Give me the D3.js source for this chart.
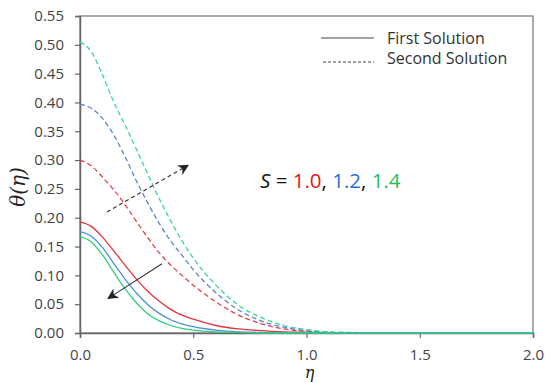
<!DOCTYPE html>
<html>
<head>
<meta charset="utf-8">
<script src="https://cdn.jsdelivr.net/npm/d3@7"></script>
<style>
  body { margin: 0; background: #fff; }
  text { font-family: "Open Sans", "DejaVu Sans", sans-serif; }
</style>
</head>
<body>
<div id="canvas"></div>
<script>
"use strict";

// eta grid and theta values
let eta = [0, 0.05, 0.1, 0.15, 0.2, 0.25, 0.3, 0.35, 0.4, 0.45, 0.5, 0.6, 0.7, 0.8, 0.9, 1.0, 1.1, 1.2, 1.4, 1.6, 2.0];

let firstS10 = [0.193, 0.185, 0.166, 0.142, 0.117, 0.093, 0.072, 0.055, 0.041, 0.031, 0.024, 0.013, 0.007, 0.004, 0.002, 0.001, 0, 0, 0, 0, 0];
let firstS12 = [0.176, 0.168, 0.148, 0.120, 0.093, 0.069, 0.049, 0.034, 0.023, 0.016, 0.011, 0.005, 0.002, 0.001, 0, 0, 0, 0, 0, 0, 0];
let firstS14 = [0.167, 0.158, 0.135, 0.105, 0.076, 0.052, 0.033, 0.021, 0.013, 0.008, 0.005, 0.002, 0.001, 0, 0, 0, 0, 0, 0, 0, 0];

let secondS10 = [0.300, 0.290, 0.270, 0.248, 0.222, 0.193, 0.165, 0.139, 0.118, 0.100, 0.083, 0.054, 0.031, 0.016, 0.007, 0.003, 0.001, 0, 0, 0, 0];
let secondS12 = [0.397, 0.390, 0.372, 0.343, 0.305, 0.263, 0.225, 0.190, 0.160, 0.135, 0.110, 0.070, 0.040, 0.021, 0.010, 0.004, 0.001, 0, 0, 0, 0];
let secondS14 = [0.505, 0.488, 0.447, 0.400, 0.360, 0.318, 0.275, 0.233, 0.195, 0.160, 0.130, 0.083, 0.048, 0.027, 0.013, 0.006, 0.002, 0.001, 0, 0, 0];

let sLabels = ["1.0", "1.2", "1.4"];
let xTicks = [0, 0.5, 1.0, 1.5, 2.0];
let yTicks = [0, 0.05, 0.1, 0.15, 0.2, 0.25, 0.3, 0.35, 0.4, 0.45, 0.5, 0.55];

let lineColors = ["#e4343e", "#4f8fd8", "#2fd07c"];
let dashColors = ["#e0404a", "#5a82cc", "#3ad49c"];
let textColors = ["#e8141e", "#2f6fd8", "#1fbf5f"];

let width = 550, height = 383;
let margin = {left: 80, right: 17, top: 16, bottom: 50};

let drawing = d3.select("#canvas")
    .append("svg")
    .attr("width", width)
    .attr("height", height);

let x = d3.scaleLinear().domain([0, 2]).range([margin.left, width - margin.right]);
let y = d3.scaleLinear().domain([0, 0.55]).range([height - margin.bottom, margin.top]);

// frame (top + right)
drawing.append("rect")
    .attr("x", x(0)).attr("y", y(0.55))
    .attr("width", x(2) - x(0)).attr("height", y(0) - y(0.55))
    .attr("fill", "none")
    .attr("stroke", "#777")
    .attr("stroke-width", 1.2);

let xAxis = drawing.append("g")
    .attr("transform", `translate(0,${y(0)})`)
    .call(d3.axisBottom(x).tickValues(xTicks).tickSize(5).tickFormat(d3.format(".1f")));

let yAxis = drawing.append("g")
    .attr("transform", `translate(${x(0)},0)`)
    .call(d3.axisLeft(y).tickValues(yTicks).tickSize(5).tickFormat(d3.format(".2f")));

[xAxis, yAxis].forEach(function (ax) {
    ax.select(".domain").attr("stroke", "#666").attr("stroke-width", 1.5);
    ax.selectAll(".tick line").attr("stroke", "#666").attr("stroke-width", 1.2);
    ax.selectAll(".tick text")
        .attr("fill", "#444")
        .style("font-size", "15px")
        .style("font-family", "'Open Sans', sans-serif");
});
xAxis.selectAll(".tick text").attr("y", 9).attr("dy", "1.2em");
yAxis.selectAll(".tick text").attr("x", -16);

let line = d3.line()
    .x((d, i) => x(eta[i]))
    .y(d => y(d))
    .curve(d3.curveMonotoneX);

let plot = drawing.append("g");

[secondS10, secondS12, secondS14].forEach(function (vals, i) {
    plot.append("path")
        .attr("d", line(vals))
        .attr("fill", "none")
        .attr("stroke", dashColors[i])
        .attr("stroke-width", 1.3)
        .attr("stroke-dasharray", "5,3");
});

[firstS10, firstS12, firstS14].forEach(function (vals, i) {
    plot.append("path")
        .attr("d", line(vals))
        .attr("fill", "none")
        .attr("stroke", lineColors[i])
        .attr("stroke-width", 1.3);
});

// arrows
let defs = drawing.append("defs");
defs.append("marker")
    .attr("id", "head")
    .attr("viewBox", "0 0 10 10")
    .attr("refX", 8).attr("refY", 5)
    .attr("markerWidth", 11).attr("markerHeight", 11)
    .attr("markerUnits", "userSpaceOnUse")
    .attr("orient", "auto")
    .append("path")
    .attr("d", "M0,0 L10,5 L0,10 L3,5 Z")
    .attr("fill", "#222");

drawing.append("line")
    .attr("x1", x(0.119)).attr("y1", y(0.21))
    .attr("x2", x(0.473)).attr("y2", y(0.29))
    .attr("stroke", "#333").attr("stroke-width", 1.1)
    .attr("stroke-dasharray", "4,3")
    .attr("marker-end", "url(#head)");

drawing.append("line")
    .attr("x1", x(0.362)).attr("y1", y(0.12))
    .attr("x2", x(0.128)).attr("y2", y(0.061))
    .attr("stroke", "#333").attr("stroke-width", 1.1)
    .attr("marker-end", "url(#head)");

// S label
let sText = drawing.append("text")
    .attr("x", 260).attr("y", 188)
    .style("font-size", "20.5px")
    .attr("fill", "#111");
sText.append("tspan").text("S").style("font-style", "italic");
sText.append("tspan").text(" = ");
sLabels.forEach(function (s, i) {
    sText.append("tspan").text(s).attr("fill", textColors[i]);
    if (i < sLabels.length - 1) sText.append("tspan").text(", ");
});

// legend
let legend = drawing.append("g");
legend.append("line")
    .attr("x1", 321).attr("x2", 374).attr("y1", 38).attr("y2", 38)
    .attr("stroke", "#444").attr("stroke-width", 1);
legend.append("line")
    .attr("x1", 323).attr("x2", 374).attr("y1", 62).attr("y2", 62)
    .attr("stroke", "#444").attr("stroke-width", 1)
    .attr("stroke-dasharray", "3,2");
legend.append("text").attr("x", 387).attr("y", 44)
    .style("font-size", "16px").attr("fill", "#333").text("First Solution");
legend.append("text").attr("x", 387).attr("y", 64)
    .style("font-size", "16px").attr("fill", "#333").text("Second Solution");

// axis titles
drawing.append("text")
    .attr("x", (x(0) + x(2)) / 2 + 3).attr("y", 378)
    .attr("text-anchor", "middle")
    .style("font-family", "'DejaVu Serif', serif")
    .style("font-style", "italic")
    .style("font-size", "16px")
    .attr("fill", "#222")
    .text("η");

drawing.append("text")
    .attr("transform", "translate(25,187) rotate(-90)")
    .attr("text-anchor", "middle")
    .style("font-family", "'DejaVu Serif', serif")
    .style("font-style", "italic")
    .style("font-size", "20px")
    .attr("fill", "#222")
    .text("θ(η)");
</script>
</body>
</html>
